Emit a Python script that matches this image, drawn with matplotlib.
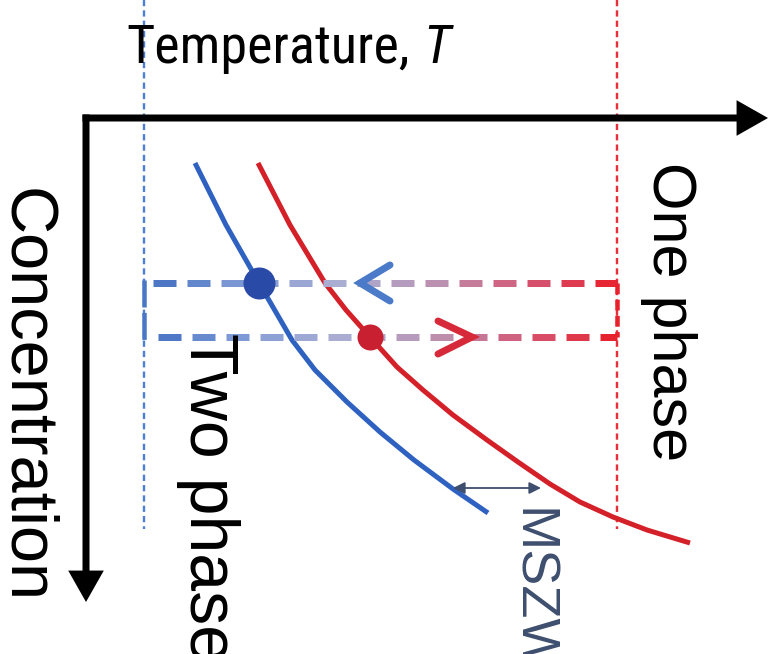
import numpy as np
import matplotlib
matplotlib.use('Agg')
import matplotlib.pyplot as plt
from matplotlib.patches import FancyArrowPatch
from matplotlib.collections import LineCollection
from matplotlib.colors import LinearSegmentedColormap
from matplotlib import font_manager as fm

PX = 72 / 100.0  # points per pixel at dpi 100

# curves (pixel coords, y down)
blue_x = [195, 226, 259, 292, 315, 347, 380, 414, 453, 488]
blue_y = [163, 225, 283, 340, 370, 402, 432, 460, 489, 513]
red_x = [258, 290, 325, 346, 370, 397, 423, 453, 487, 518, 550, 580, 613, 647, 690]
red_y = [163, 225, 283, 310, 337, 367, 390, 415, 440, 462, 484, 502, 517, 530, 543]

# guide lines / levels
x_blue_guide = 144
x_red_guide = 617
guide_bottom = 529
y_levels = [283, 337]
dash_start = [153, 158]

# points on the curves
dot_blue = (259, 283)
dot_red = (370, 337)

# chevrons
chev_left_x = [390, 360, 390]
chev_left_y = [265, 283, 301]
chev_right_x = [438, 472, 438]
chev_right_y = [321, 337, 354]

# MSZW arrow
mszw_x = [453, 541]
mszw_y = 488

fig = plt.figure(figsize=(7.84, 6.54), dpi=100)
ax = fig.add_axes([0, 0, 1, 1])
ax.set_xlim(0, 784)
ax.set_ylim(654, 0)
ax.axis('off')

# thin vertical guides
ax.plot([x_blue_guide, x_blue_guide], [0, guide_bottom], color='#4f7fd2',
        lw=2.4 * PX, dashes=(2.6, 1.7), zorder=1)
ax.plot([x_red_guide, x_red_guide], [0, guide_bottom], color='#e8303a',
        lw=2.4 * PX, dashes=(2.6, 1.7), zorder=1)

# curves
ax.plot(blue_x, blue_y, color='#2f62c0', lw=5 * PX, solid_capstyle='butt',
        solid_joinstyle='round', zorder=2)
ax.plot(red_x, red_y, color='#d42028', lw=5 * PX, solid_capstyle='butt',
        solid_joinstyle='round', zorder=2)

# gradient dashed lines
cmap = LinearSegmentedColormap.from_list(
    'br', ['#3f6cc0', '#7f9bd6', '#a9add3', '#b996b6', '#d35a78', '#e8202c'])
dash, period = 23, 34
for y, x0 in zip(y_levels, dash_start):
    starts = np.arange(x0, x_red_guide - 4, period)
    segs = [[(s, y), (min(s + dash, x_red_guide), y)] for s in starts]
    cols = cmap((starts + dash / 2 - x_blue_guide) / (x_red_guide - x_blue_guide))
    ax.add_collection(LineCollection(segs, colors=cols, linewidths=7 * PX,
                                     capstyle='butt', zorder=3))

# brackets at both ends
ax.plot([x_blue_guide, x_blue_guide], [y_levels[0] - 3, y_levels[1] + 4],
        color='#4a76c6', lw=4.5 * PX, dashes=(6, 1.2), zorder=3)
ax.plot([x_red_guide, x_red_guide], [y_levels[0], y_levels[1]],
        color='#e8202c', lw=4.5 * PX, dashes=(2.4, 1.2), zorder=3)

# direction chevrons
ax.plot(chev_left_x, chev_left_y, color='#4a7ac8', lw=7 * PX,
        solid_capstyle='round', solid_joinstyle='miter', zorder=4)
ax.plot(chev_right_x, chev_right_y, color='#d62a3a', lw=7 * PX,
        solid_capstyle='round', solid_joinstyle='miter', zorder=4)

# dots
ax.scatter([dot_blue[0]], [dot_blue[1]], s=(32 * PX) ** 2, color='#2a4aa8', zorder=5, lw=0)
ax.scatter([dot_red[0]], [dot_red[1]], s=(26 * PX) ** 2, color='#c82030', zorder=5, lw=0)

# black axes
head = '-|>,head_length=15,head_width=8.5'
ax.add_patch(FancyArrowPatch((82.5, 118), (768, 118), arrowstyle=head,
                             mutation_scale=1, lw=7 * PX, color='black', shrinkA=0, shrinkB=0,
                             capstyle='butt', joinstyle='miter', zorder=6))
ax.add_patch(FancyArrowPatch((86, 114.5), (86, 602), arrowstyle=head,
                             mutation_scale=1, lw=7 * PX, color='black', shrinkA=0, shrinkB=0,
                             capstyle='butt', joinstyle='miter', zorder=6))

# MSZW double arrow
ax.add_patch(FancyArrowPatch((mszw_x[0], mszw_y), (mszw_x[1], mszw_y),
                             arrowstyle='<|-|>,head_length=7,head_width=3.5', mutation_scale=1,
                             lw=1.8 * PX, color='#3e4e6e', shrinkA=0, shrinkB=0, zorder=4))

# top label
names = {f.name for f in fm.fontManager.ttflist}
if 'Liberation Sans Narrow' in names:
    top_family, top_size = 'Liberation Sans Narrow', 41
elif 'Roboto Condensed' in names:
    top_family, top_size = 'Roboto Condensed', 39
else:
    top_family, top_size = 'Liberation Sans', 35
t1 = ax.text(0, 63, 'Temperature,', family=top_family, fontsize=top_size,
             ha='left', va='baseline', zorder=7)
fig.canvas.draw()
w = t1.get_window_extent().width
t1.set_x(268 - w / 2)
ax.text(268 + w / 2 + 0.25 * top_size / PX, 63, 'T', family=top_family,
        fontsize=top_size, style='italic', ha='left', va='baseline', zorder=7)

side = dict(family='Liberation Sans', rotation=-90, rotation_mode='anchor',
            ha='left', va='baseline', zorder=7)
ax.text(8, 188, 'Concentration', fontsize=48, **side)
ax.text(653, 162, 'One phase', fontsize=44, **side)
ax.text(190, 333, 'Two phase', fontsize=49, **side)
ax.text(517, 508, 'MSZW', fontsize=39, color='#3e4e6e', **side)

fig.savefig('out.png', dpi=100)
